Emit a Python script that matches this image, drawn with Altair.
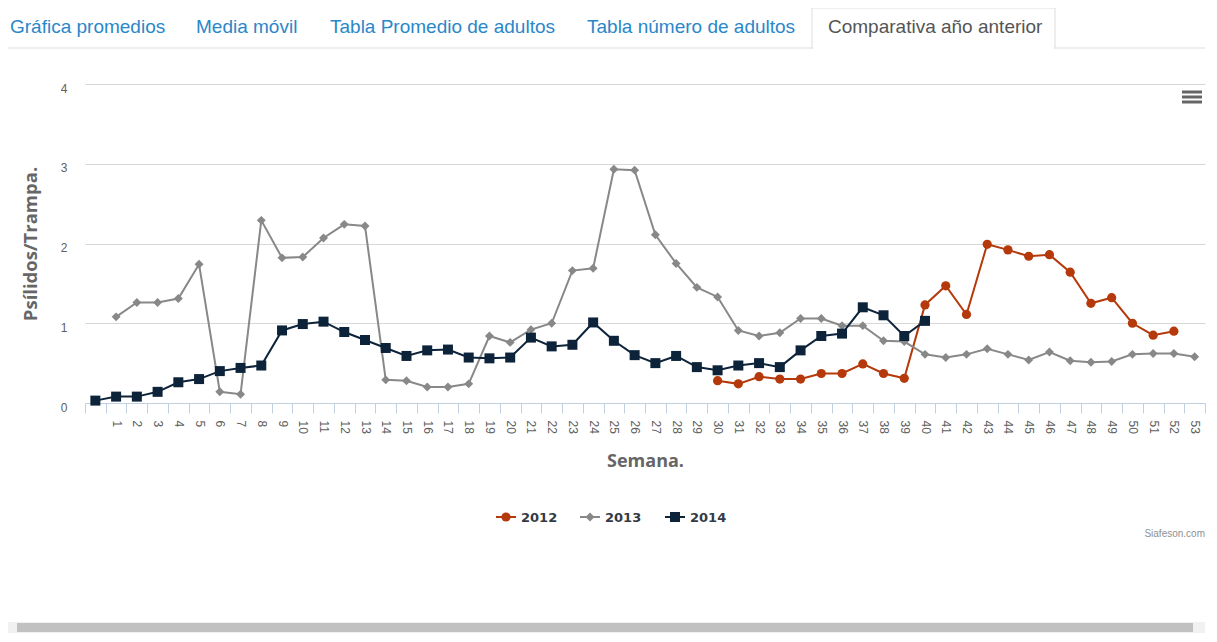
import altair as alt
import pandas as pd

# ---------------- data ----------------
weeks = list(range(0, 54))
series_names = ["2012", "2013", "2014"]
series_colors = ["#b5390a", "#888888", "#0d233a"]
series_shapes = ["circle", "diamond", "square"]
series_sizes = [85, 80, 100]

start_2012 = 30
vals_2012 = [0.28, 0.24, 0.33, 0.30, 0.30, 0.37, 0.37, 0.49, 0.37, 0.31,
             1.23, 1.47, 1.11, 1.99, 1.92, 1.84, 1.86, 1.64, 1.25, 1.32,
             1.00, 0.85, 0.90]

start_2013 = 1
vals_2013 = [1.08, 1.26, 1.26, 1.31, 1.74, 0.14, 0.11, 2.29, 1.82, 1.83,
             2.07, 2.24, 2.22, 0.29, 0.28, 0.20, 0.20, 0.24, 0.84, 0.76,
             0.92, 1.00, 1.66, 1.69, 2.93, 2.92, 2.11, 1.75, 1.45, 1.33,
             0.91, 0.84, 0.88, 1.06, 1.06, 0.97, 0.97, 0.78, 0.77, 0.61,
             0.57, 0.61, 0.68, 0.61, 0.54, 0.64, 0.53, 0.51, 0.52, 0.61,
             0.62, 0.62, 0.58]

start_2014 = 0
vals_2014 = [0.03, 0.08, 0.08, 0.14, 0.26, 0.30, 0.40, 0.44, 0.47, 0.91,
             0.99, 1.02, 0.89, 0.79, 0.69, 0.59, 0.66, 0.67, 0.57, 0.56,
             0.57, 0.82, 0.71, 0.73, 1.01, 0.78, 0.60, 0.50, 0.59, 0.45,
             0.41, 0.47, 0.50, 0.45, 0.66, 0.84, 0.87, 1.20, 1.10, 0.84,
             1.03]

y_ticks = [0, 1, 2, 3, 4]
tabs = ["Gráfica promedios", "Media móvil", "Tabla Promedio de adultos",
        "Tabla número de adultos", "Comparativa año anterior"]
y_title = "Psílidos/Trampa."
x_title = "Semana."
credit = "Siafeson.com"

rows = []
for name, start, vals in zip(series_names, [start_2012, start_2013, start_2014],
                             [vals_2012, vals_2013, vals_2014]):
    for k, v in enumerate(vals):
        rows.append({"semana": start + k, "valor": v, "serie": name})
df = pd.DataFrame(rows)

# ---------------- layout ----------------
W, H = 1120, 319
PAD = {"left": 77, "top": 76, "right": 2, "bottom": 230}

x_enc = alt.X(
    "semana:O",
    bandPosition=0.5,
    scale=alt.Scale(type="band", domain=weeks, paddingInner=0, paddingOuter=0),
    axis=alt.Axis(
        title=x_title,
        labelExpr="datum.value == 0 ? '' : datum.label",
        labelAngle=90, labelAlign="left", labelBaseline="middle",
        labelPadding=7, labelFontSize=12, labelColor="#606060",
        labelFont="Liberation Sans",
        tickSize=10, tickColor="#c0d0e0", domainColor="#c0d0e0",
        tickBand="extent", grid=False, labelOverlap=False,
        titleX=560, titleY=58, titleBaseline="middle", titleAlign="center",
        titleFontSize=18, titleFont="Open Sans", titleFontWeight="bold",
        titleColor="#666666",
    ),
)
y_enc = alt.Y(
    "valor:Q",
    scale=alt.Scale(domain=[0, 4], nice=False, zero=True),
    axis=alt.Axis(
        title=y_title, values=y_ticks, grid=True, gridColor="#d8d8d8",
        domain=False, ticks=False, labelPadding=18, labelFontSize=12,
        labelColor="#606060", labelFont="Liberation Sans", labelOffset=4,
        titleX=-55, titleY=159.5, titleAngle=270, titleAlign="center",
        titleBaseline="middle", titleFontSize=18.5, titleFont="Open Sans",
        titleFontWeight="bold", titleColor="#666666",
    ),
)
color_enc = alt.Color("serie:N", scale=alt.Scale(domain=series_names, range=series_colors),
                      legend=None)

base = alt.Chart(df)
lines = base.mark_line(strokeWidth=2).encode(x=x_enc, y=y_enc, color=color_enc,
                                             detail="serie:N")
layers = [lines]
for name, col, shp, sz in zip(series_names, series_colors, series_shapes, series_sizes):
    layers.append(
        base.transform_filter(alt.datum.serie == name)
        .mark_point(filled=True, opacity=1, shape=shp, size=sz, color=col)
        .encode(x=x_enc, y=y_enc)
    )

one = pd.DataFrame({"t": [""]})


def txt(text, x, y, **kw):
    return alt.Chart(pd.DataFrame({"t": [text]})).mark_text(**kw).encode(
        x=alt.value(x), y=alt.value(y), text="t:N")


def hrule(x1, x2, y, color, width):
    return alt.Chart(one).mark_rule(color=color, strokeWidth=width).encode(
        x=alt.value(x1), x2=alt.value(x2), y=alt.value(y))


def box(x1, x2, y1, y2, fill, stroke=None):
    kw = {"fill": fill}
    if stroke:
        kw["stroke"] = stroke
        kw["strokeWidth"] = 1
    return alt.Chart(one).mark_rect(**kw).encode(
        x=alt.value(x1), x2=alt.value(x2), y=alt.value(y1), y2=alt.value(y2))


deco = []
# tabs
deco.append(hrule(-77, 1120, -36, "#dddddd", 1))
deco.append(box(727, 970, -76, -36, "#ffffff", "#dddddd"))
deco.append(hrule(728, 969, -36, "#ffffff", 2))
tab_x = [-75, 111, 245, 502, 743]
for i, (t, tx) in enumerate(zip(tabs, tab_x)):
    deco.append(txt(t, tx, -57, align="left", baseline="middle", fontSize=19,
                    font="Liberation Sans",
                    color="#555555" if i == len(tabs) - 1 else "#2a87c9"))
# menu icon
for yy in [8, 13, 18]:
    deco.append(hrule(1097, 1117, yy, "#666666", 3))
# legend
leg_x = [411, 495, 580]
for name, col, shp, sz, lx in zip(series_names, series_colors, series_shapes,
                                  series_sizes, leg_x):
    deco.append(hrule(lx, lx + 20, 433, col, 2))
    deco.append(alt.Chart(one).mark_point(filled=True, opacity=1, shape=shp,
                                          size=sz, color=col)
                .encode(x=alt.value(lx + 10), y=alt.value(433)))
    deco.append(txt(name, lx + 25, 434, align="left", baseline="middle",
                    fontSize=13, fontWeight="bold", font="DejaVu Sans",
                    color="#333a45"))
# credit
deco.append(txt(credit, 1120, 450, align="right", baseline="middle", fontSize=10,
                font="Liberation Sans", color="#909090"))
# scrollbar
deco.append(box(-77, 1120, 538, 549, "#f1f1f1"))
deco.append(box(-68, 1108, 539, 548, "#c1c1c1"))

chart = alt.layer(*deco, *layers).properties(
    width=W, height=H,
    autosize=alt.AutoSizeParams(type="none"),
    padding=PAD,
).configure_view(stroke=None)

chart.save("out.html", embed_options={"renderer": "svg", "actions": False})
